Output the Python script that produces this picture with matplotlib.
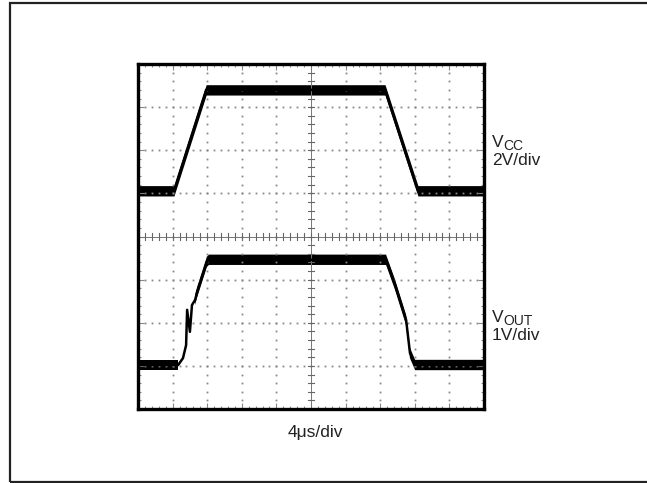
import numpy as np
import matplotlib
matplotlib.use("Agg")
import matplotlib.pyplot as plt
from matplotlib.patches import Rectangle

plt.rcParams['font.family'] = ['Liberation Sans', 'DejaVu Sans']

# Scope traces, read in divisions (x: 0..10, y: 0..8)
vcc_t = [0, 1.04, 1.97, 7.14, 8.09, 10]
vcc_v = [5.06, 5.06, 7.40, 7.40, 5.06, 5.06]

vout_t = [0, 1.16, 1.30, 1.39, 1.42, 1.50, 1.56, 1.65, 1.71, 1.99, 2.05,
          7.17, 7.43, 7.75, 7.86, 8.01, 10]
vout_v = [1.02, 1.02, 1.18, 1.48, 2.30, 1.79, 2.41, 2.53, 2.71, 3.41, 3.46,
          3.46, 2.88, 2.06, 1.30, 1.02, 1.02]

W, H = 647, 483
fig = plt.figure(figsize=(W / 100, H / 100), dpi=100)

# outer box
fig.patches.append(Rectangle((10 / W, 1 / H), (W + 5 - 10) / W, (482 - 3) / H,
                             transform=fig.transFigure, fill=False,
                             edgecolor='#222222', linewidth=1.6))

ax = fig.add_axes([138 / W, (H - 409) / H, 346 / W, 345 / H])
ax.set_xlim(0, 10)
ax.set_ylim(0, 8)

# dotted graticule
minor_x = np.arange(0, 10.01, 0.2)
minor_y = np.arange(0, 8.01, 0.2)
for gx in range(1, 10):
    if gx == 5:
        continue
    ax.plot(np.full_like(minor_y, gx), minor_y, ls='none', marker='s',
            ms=1.3, color='#888888', mew=0)
for gy in range(1, 8):
    if gy == 4:
        continue
    ax.plot(minor_x, np.full_like(minor_x, gy), ls='none', marker='s',
            ms=1.3, color='#888888', mew=0)

# center crosshair with small ticks
ax.axvline(5, color='#777777', lw=0.7)
ax.axhline(4, color='#777777', lw=0.7)
for tx in minor_x:
    ax.plot([tx, tx], [3.93, 4.07], color='#666666', lw=0.8)
for ty in minor_y:
    ax.plot([4.92, 5.08], [ty, ty], color='#666666', lw=0.8)

# traces as noisy bands (thin where the VOUT trace rings)
half = 0.12
for t, v in ((vcc_t, vcc_v), (vout_t, vout_v)):
    t = np.asarray(t)
    v = np.asarray(v)
    band = (t <= 1.16) | (t >= 1.65)
    ax.fill_between(t, v - half, v + half, where=band, color='black', lw=0)
    ax.plot(t, v, color='black', lw=1.8, solid_joinstyle='round')

ax.set_xticks(range(11))
ax.set_yticks(range(9))
ax.set_xticks(minor_x, minor=True)
ax.set_yticks(minor_y, minor=True)
ax.tick_params(which='both', direction='in', top=True, right=True,
               labelbottom=False, labelleft=False, color='#888888', width=0.8)
ax.tick_params(which='major', length=4)
ax.tick_params(which='minor', length=2.5)
for s in ax.spines.values():
    s.set_linewidth(2.4)
    s.set_color('black')


def ftxt(x, y, s, size=12.5):
    fig.text(x / W, 1 - y / H, s, fontsize=size, va='baseline', ha='left',
             color='#222222')


ftxt(492, 147, "V")
ftxt(503, 150, "CC", 10)
ftxt(492, 165, "2V/div")
ftxt(492, 322, "V")
ftxt(503, 325, "OUT", 10)
ftxt(492, 340, "1V/div")
ftxt(288, 437, "4\u03bcs/div")

fig.savefig("out.png", dpi=100)
